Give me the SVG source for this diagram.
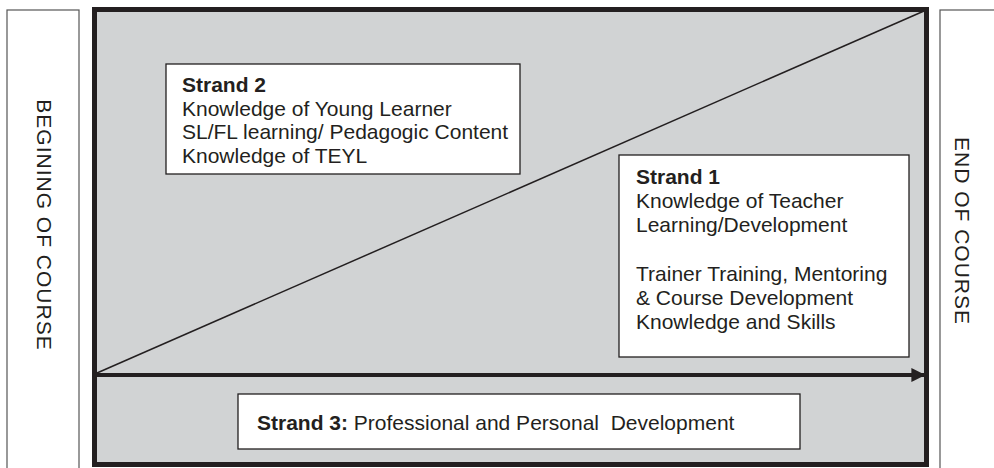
<svg xmlns="http://www.w3.org/2000/svg" width="994" height="468" viewBox="0 0 994 468">
<style>
  .txt { font-family: "Liberation Sans", Arial, sans-serif; font-size: 21px; fill: #231f20; }
  .b { font-weight: bold; }
  .side { font-family: "Liberation Sans", Arial, sans-serif; font-size: 21px; fill: #231f20; letter-spacing: 1px; }
  .box { fill: #ffffff; stroke: #231f20; stroke-width: 1.3; }
  .sidebox { fill: #ffffff; stroke: #555555; stroke-width: 1.2; }
</style>
<defs>
  <marker id="ah" viewBox="0 0 10 10" refX="9" refY="5" markerWidth="3.5" markerHeight="3.5" orient="auto" markerUnits="strokeWidth">
    <path d="M0,0 L10,5 L0,10 Z" fill="#231f20"/>
  </marker>
</defs>
<rect width="994" height="468" fill="#ffffff"/>
<g id="begin">
  <rect class="sidebox" x="7" y="10" width="72" height="470"/>
  <text class="side" transform="translate(37,225) rotate(90)" text-anchor="middle">BEGINING OF COURSE</text>
</g>
<g id="end">
  <rect class="sidebox" x="940" y="10" width="70" height="470"/>
  <text class="side" transform="translate(955,231) rotate(90)" text-anchor="middle">END OF COURSE</text>
</g>
<g id="frame">
  <rect x="94.5" y="9.5" width="832" height="455" fill="#d1d3d4" stroke="#231f20" stroke-width="5"/>
</g>
<g id="connectors">
  <line x1="97" y1="373" x2="924" y2="11" stroke="#231f20" stroke-width="1.5"/>
  <line x1="97" y1="375" x2="924" y2="375" stroke="#231f20" stroke-width="4" marker-end="url(#ah)"/>
</g>
<g id="strand2">
  <rect class="box" x="166" y="64" width="354" height="110"/>
  <text class="txt" x="182" y="92"><tspan class="b">Strand 2</tspan><tspan x="182" dy="23.5">Knowledge of Young Learner</tspan><tspan x="182" dy="23.5">SL/FL learning/ Pedagogic Content</tspan><tspan x="182" dy="23.5">Knowledge of TEYL</tspan></text>
</g>
<g id="strand1">
  <rect class="box" x="619" y="155" width="290" height="202"/>
  <text class="txt" x="636" y="184"><tspan class="b">Strand 1</tspan><tspan x="636" dy="24">Knowledge of Teacher</tspan><tspan x="636" dy="24">Learning/Development</tspan><tspan x="636" dy="49">Trainer Training, Mentoring</tspan><tspan x="636" dy="24">&amp; Course Development</tspan><tspan x="636" dy="24">Knowledge and Skills</tspan></text>
</g>
<g id="strand3">
  <rect class="box" x="238" y="394" width="562" height="55"/>
  <text class="txt" x="257" y="430" xml:space="preserve"><tspan class="b">Strand 3:</tspan> Professional and Personal  Development</text>
</g>
</svg>
